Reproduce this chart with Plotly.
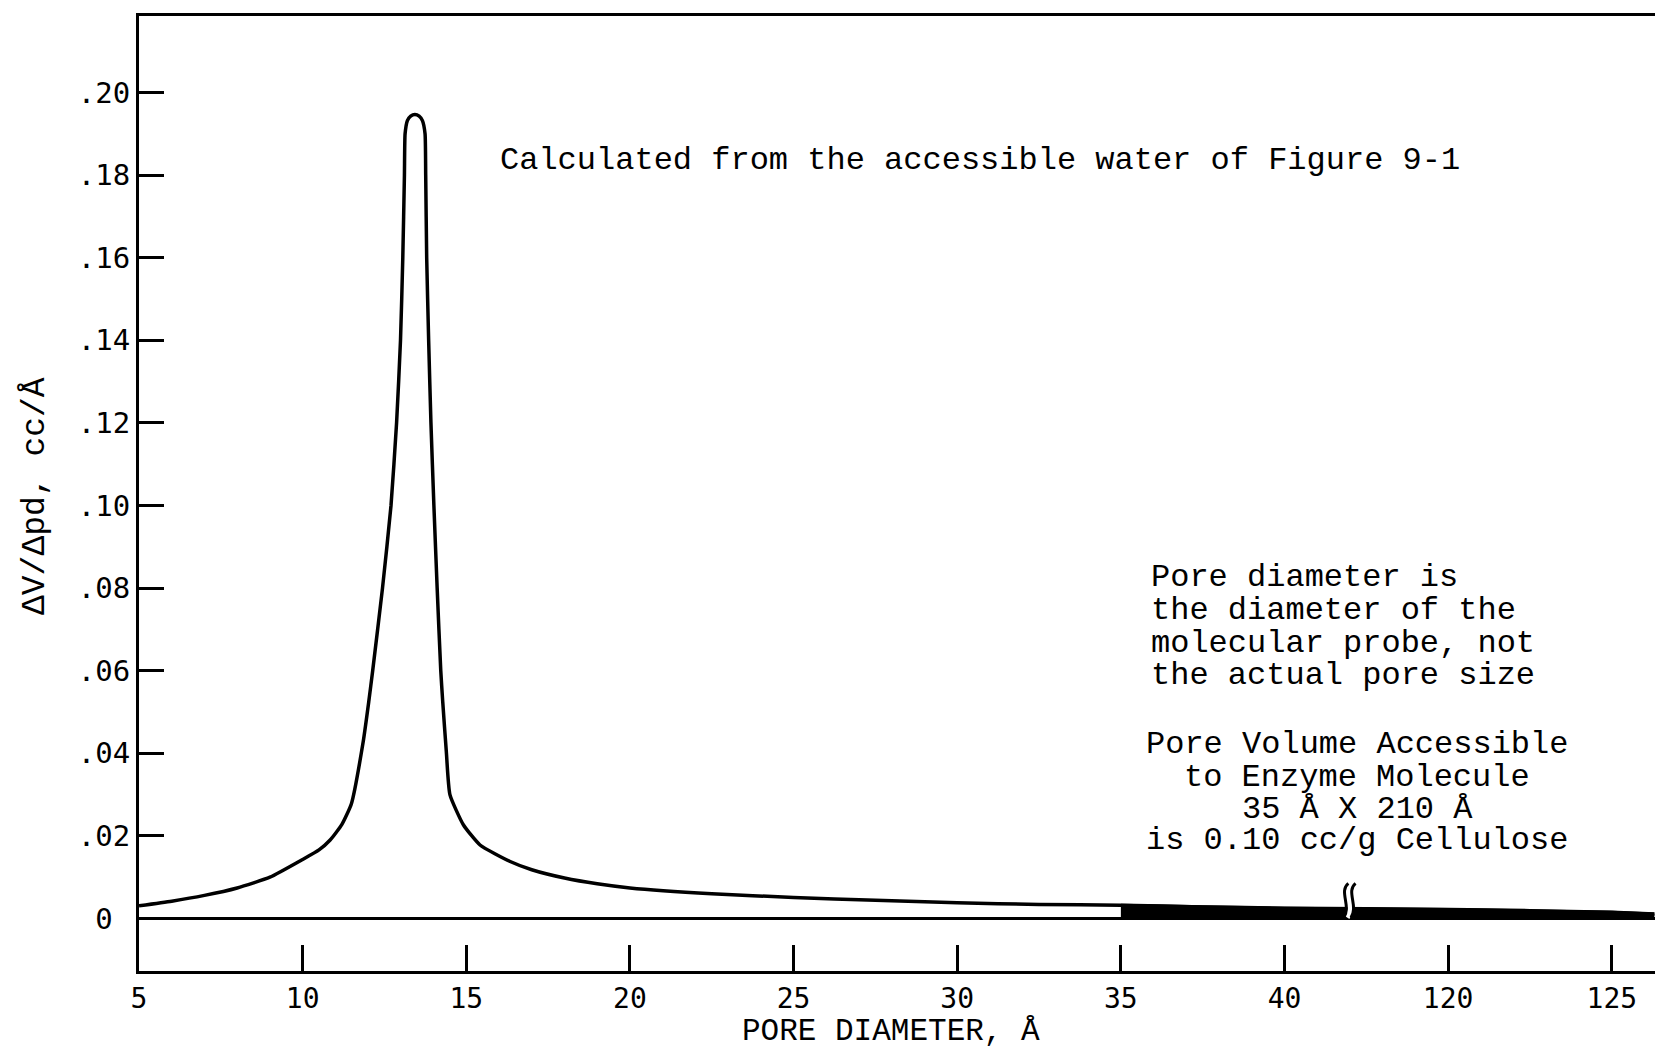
import plotly.graph_objects as go

# Pore-size distribution of cellulose (solute exclusion), dV/dpd vs probe diameter
pore_diameter = [5.0, 6.0, 7.0, 8.0, 9.0, 10.0, 10.5, 10.84, 11.2, 11.49,
                 11.85, 12.02, 12.14, 12.44, 12.70, 12.87, 12.99, 13.06, 13.11,
                 13.13, 13.2, 13.3, 13.43, 13.56, 13.66, 13.74, 13.76, 13.79,
                 13.85, 13.92, 14.01, 14.11, 14.22, 14.28, 14.39, 14.50, 14.91,
                 15.42, 16.34, 17.0, 18.0, 19.0, 20.0, 22.5, 25.0, 27.5, 30.0,
                 32.5, 35.0, 37.5, 40.0, 120.0, 122.5, 125.0, 126.3]
dv_dpd = [0.0031, 0.0042, 0.0056, 0.0074, 0.0100, 0.0143, 0.0166, 0.0190,
          0.0228, 0.0278, 0.0428, 0.0525, 0.060, 0.080, 0.100, 0.120, 0.140,
          0.160, 0.180, 0.190, 0.1932, 0.1943, 0.1947, 0.1943, 0.1932, 0.190,
          0.180, 0.160, 0.140, 0.120, 0.100, 0.080, 0.060, 0.0525, 0.0404,
          0.030, 0.0227, 0.0178, 0.0138, 0.0118, 0.0098, 0.0084, 0.0074,
          0.0060, 0.0051, 0.0044, 0.0038, 0.0034, 0.0032, 0.0028, 0.0025,
          0.0022, 0.0019, 0.0015, 0.0011]

# Probes at or above this size fit the enzyme molecule (shaded band)
enzyme_size = 35.0

x_tick_labels = ["5", "10", "15", "20", "25", "30", "35", "40", "120", "125"]
x_tick_values = [5, 10, 15, 20, 25, 30, 35, 40, 120, 125]
y_tick_values = [0, 0.02, 0.04, 0.06, 0.08, 0.10, 0.12, 0.14, 0.16, 0.18, 0.20]
y_tick_labels = ["0\u00a0", ".02", ".04", ".06", ".08", ".10", ".12", ".14",
                 ".16", ".18", ".20"]

# Broken x axis: 40 A is followed directly by 120 A
BREAK_FROM, BREAK_TO = 40.0, 120.0
BREAK_GAP = 5.0


def axis_pos(d):
    if d <= BREAK_FROM:
        return d
    return d - (BREAK_TO - BREAK_FROM) + BREAK_GAP


xs = [axis_pos(d) for d in pore_diameter]
band_x = [axis_pos(d) for d in pore_diameter if d >= enzyme_size]
band_y = [v for d, v in zip(pore_diameter, dv_dpd) if d >= enzyme_size]

MONO = "Liberation Mono, Courier New, monospace"
TEXT_FONT = dict(family=MONO, size=32, color="black")

fig = go.Figure()

fig.add_trace(go.Scatter(
    x=band_x, y=band_y, mode="lines", fill="tozeroy",
    fillcolor="black", line=dict(color="black", width=3),
    hoverinfo="skip", showlegend=False))

fig.add_trace(go.Scatter(
    x=xs, y=dv_dpd, mode="lines",
    line=dict(color="black", width=3.5, shape="spline", smoothing=0.5),
    showlegend=False))

# Axis-break squiggle drawn across the shaded band
bx = (axis_pos(BREAK_FROM) + axis_pos(BREAK_TO)) / 2 - 0.67


def s_curve(x0):
    return (f"M {x0 + 0.12},0.0085 C {x0 - 0.18},0.0066 {x0 + 0.22},0.0030 "
            f"{x0 - 0.02},0.0002")


shapes = [
    dict(type="path", path=s_curve(bx + 0.11), xref="x", yref="y",
         line=dict(color="white", width=5)),
    dict(type="path", path=s_curve(bx), xref="x", yref="y",
         line=dict(color="black", width=3)),
    dict(type="path", path=s_curve(bx + 0.22), xref="x", yref="y",
         line=dict(color="black", width=3)),
]

W, H = 1655, 1049
L, R, T, B = 139, 0, 16, 78
pw, ph = W - L - R, H - T - B

# Text blocks, placed in page pixels
notes = [
    ("Calculated from the accessible water of Figure 9-1", 499, 160, "left", 32),
    ("Pore diameter is", 1150, 577, "left", 32),
    ("the diameter of the", 1150, 610, "left", 32),
    ("molecular probe, not", 1150, 643, "left", 32),
    ("the actual pore size", 1150, 675, "left", 32),
    ("Pore Volume Accessible", 1357, 744, "center", 32),
    ("to Enzyme Molecule", 1357, 777, "center", 32),
    ("35 Å X 210 Å", 1357, 809, "center", 32),
    ("is 0.10 cc/g Cellulose", 1357, 840, "center", 32),
    ("PORE DIAMETER, Å", 891, 1031.5, "center", 31),
]
ann = []
for text, px, py, anchor, size in notes:
    ann.append(dict(text=text, x=(px - L) / pw, y=(H - B - py) / ph,
                    xref="paper", yref="paper", xanchor=anchor,
                    yanchor="middle", showarrow=False, borderpad=0,
                    font=dict(family=MONO, size=size, color="black")))

ann.append(dict(text="ΔV/Δpd, cc/Å", x=(35 - L) / pw, y=(H - B - 496) / ph,
                xref="paper", yref="paper", xanchor="center", yanchor="middle",
                textangle=-90, showarrow=False, borderpad=0,
                font=dict(family=MONO, size=33, color="black")))

fig.update_layout(
    width=W, height=H,
    margin=dict(l=L, r=R, t=T, b=B, pad=0),
    paper_bgcolor="white", plot_bgcolor="white",
    shapes=shapes, annotations=ann,
    xaxis=dict(range=[5, 51.32], tickvals=[axis_pos(v) for v in x_tick_values],
               ticktext=x_tick_labels, ticks="inside", ticklen=26, tickwidth=3,
               tickcolor="black", showline=True, linewidth=3, linecolor="black",
               mirror=True, showgrid=False, zeroline=False,
               tickfont=dict(family="DejaVu Sans Mono, monospace", size=28,
                             color="black")),
    yaxis=dict(range=[-0.012712, 0.21852], tickvals=y_tick_values,
               ticktext=y_tick_labels, ticks="inside", ticklen=25, tickwidth=3,
               tickcolor="black", showline=True, linewidth=3, linecolor="black",
               showgrid=False, zeroline=True, zerolinewidth=3,
               zerolinecolor="black",
               tickfont=dict(family="DejaVu Sans Mono, monospace", size=29,
                             color="black")),
)

fig.write_html("out.html")
